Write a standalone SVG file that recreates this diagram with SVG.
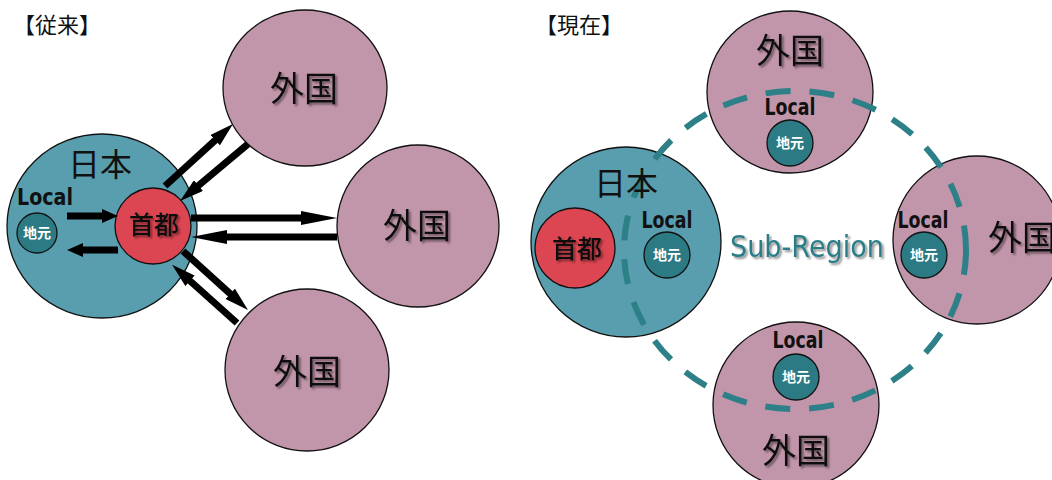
<svg xmlns="http://www.w3.org/2000/svg" width="1052" height="480" viewBox="0 0 1052 480">
<defs>
<style>
.bg{fill:#ffffff}
.jp{fill:#589eae;stroke:#111;stroke-width:1.3}
.fr{fill:#c296aa;stroke:#111;stroke-width:1.3}
.cap{fill:#db4652;stroke:#111;stroke-width:1.3}
.loc{fill:#2c7a84;stroke:#111;stroke-width:1.3}
.t{font-family:"Noto Sans CJK JP","Noto Sans CJK SC",sans-serif;text-anchor:middle;fill:#111}
.title{font-family:"Noto Sans CJK JP","Noto Sans CJK SC",sans-serif;font-size:22px;fill:#111}
.big{font-size:34px;filter:url(#sh)}
.mid{font-size:32px}
.cp{font-size:25px;font-weight:500;filter:url(#sh)}
.lc{font-family:"DejaVu Sans",sans-serif;font-weight:bold;font-size:23px;text-anchor:middle;fill:#111}
.jm{font-family:"Noto Sans CJK JP",sans-serif;font-weight:bold;font-size:14px;text-anchor:middle;fill:#fff}
.sub{font-family:"DejaVu Sans",sans-serif;font-size:30px;fill:#2c7d87;filter:url(#sh)}
.arr{stroke:#000;stroke-width:7;fill:none}
.dash{fill:none;stroke:#2d7f88;stroke-width:6;stroke-dasharray:25 19}
</style>
<filter id="sh" x="-10%" y="-10%" width="130%" height="140%">
<feGaussianBlur in="SourceAlpha" stdDeviation="1.2"/>
<feOffset dx="1.5" dy="1.5" result="b"/>
<feComponentTransfer><feFuncA type="linear" slope="0.45"/></feComponentTransfer>
<feMerge><feMergeNode/><feMergeNode in="SourceGraphic"/></feMerge>
</filter>
<marker id="hl" markerUnits="userSpaceOnUse" viewBox="0 0 36 14" refX="2" refY="7" markerWidth="36" markerHeight="14" orient="auto">
<path d="M0,0 L36,7 L0,14 z" fill="#000"/>
</marker>
<marker id="hm" markerUnits="userSpaceOnUse" viewBox="0 0 24 14" refX="2" refY="7" markerWidth="24" markerHeight="14" orient="auto">
<path d="M0,0 L24,7 L0,14 z" fill="#000"/>
</marker>
<marker id="hs" markerUnits="userSpaceOnUse" viewBox="0 0 16 14" refX="2" refY="7" markerWidth="16" markerHeight="14" orient="auto">
<path d="M0,0 L16,7 L0,14 z" fill="#000"/>
</marker>
</defs>
<rect class="bg" x="0" y="0" width="1052" height="480"/>

<!-- Left panel -->
<text class="title" x="13" y="33">【従来】</text>

<g id="l-japan">
<ellipse class="jp" cx="102" cy="226" rx="95" ry="92"/>
<text class="t mid" x="100" y="176">日本</text>
</g>
<g id="l-local">
<text class="lc" x="45" y="205" textLength="56" lengthAdjust="spacingAndGlyphs">Local</text>
<circle class="loc" cx="37" cy="233" r="20"/>
<text class="jm" x="37" y="238">地元</text>
</g>
<g id="l-capital">
<circle class="cap" cx="153" cy="226" r="38"/>
<text class="t cp" x="154" y="234">首都</text>
</g>
<g id="l-foreign-top">
<ellipse class="fr" cx="305" cy="88" rx="82" ry="78"/>
<text class="t big" x="304" y="101">外国</text>
</g>
<g id="l-foreign-right">
<ellipse class="fr" cx="418" cy="226" rx="81" ry="81"/>
<text class="t big" x="417" y="238">外国</text>
</g>
<g id="l-foreign-bottom">
<ellipse class="fr" cx="307" cy="370" rx="82" ry="81"/>
<text class="t big" x="307" y="384">外国</text>
</g>

<g id="connectors">
<line class="arr" x1="67" y1="216" x2="104" y2="216" marker-end="url(#hs)"/>
<line class="arr" x1="118" y1="250" x2="81" y2="250" marker-end="url(#hs)"/>
<line class="arr" x1="165" y1="186" x2="216.7" y2="138.8" marker-end="url(#hm)"/>
<line class="arr" x1="248" y1="144" x2="196.9" y2="186.9" marker-end="url(#hm)"/>
<line class="arr" x1="191" y1="218" x2="303" y2="218" marker-end="url(#hl)"/>
<line class="arr" x1="337" y1="237" x2="225" y2="237" marker-end="url(#hl)"/>
<line class="arr" x1="183" y1="251" x2="231.7" y2="295.2" marker-end="url(#hm)"/>
<line class="arr" x1="237" y1="323" x2="188.5" y2="279.5" marker-end="url(#hm)"/>
</g>

<!-- Right panel -->
<text class="title" x="535" y="33">【現在】</text>

<g id="r-japan">
<circle class="jp" cx="626" cy="242" r="95"/>
</g>
<g id="r-capital">
<circle class="cap" cx="575" cy="248" r="40"/>
</g>
<g id="r-local-japan">
<circle class="loc" cx="667" cy="255" r="23"/>
</g>
<g id="r-foreign-top">
<ellipse class="fr" cx="790" cy="92" rx="83" ry="81"/>
<circle class="loc" cx="790" cy="143" r="23"/>
</g>
<g id="r-foreign-right">
<ellipse class="fr" cx="977" cy="240" rx="84" ry="84"/>
<circle class="loc" cx="924" cy="255" r="23"/>
</g>
<g id="r-foreign-bottom">
<ellipse class="fr" cx="796" cy="405" rx="83" ry="83"/>
<circle class="loc" cx="796" cy="377" r="23"/>
</g>

<g id="r-subregion">
<ellipse class="dash" cx="795" cy="250" rx="171" ry="159"/>
<text class="sub" x="730" y="257" textLength="154" lengthAdjust="spacingAndGlyphs">Sub-Region</text>
</g>

<g id="r-labels">
<text class="t mid" x="626" y="195">日本</text>
<text class="t cp" x="577" y="258">首都</text>
<text class="lc" x="667" y="228" textLength="51" lengthAdjust="spacingAndGlyphs">Local</text>
<text class="jm" x="667" y="260">地元</text>
<text class="t big" x="790" y="63">外国</text>
<text class="lc" x="790" y="115" textLength="51" lengthAdjust="spacingAndGlyphs">Local</text>
<text class="jm" x="790" y="148">地元</text>
<text class="t big" x="1022" y="250">外国</text>
<text class="lc" x="923" y="228" textLength="51" lengthAdjust="spacingAndGlyphs">Local</text>
<text class="jm" x="924" y="260">地元</text>
<text class="t big" x="796" y="463">外国</text>
<text class="lc" x="798" y="348" textLength="51" lengthAdjust="spacingAndGlyphs">Local</text>
<text class="jm" x="796" y="382">地元</text>
</g>
</svg>
